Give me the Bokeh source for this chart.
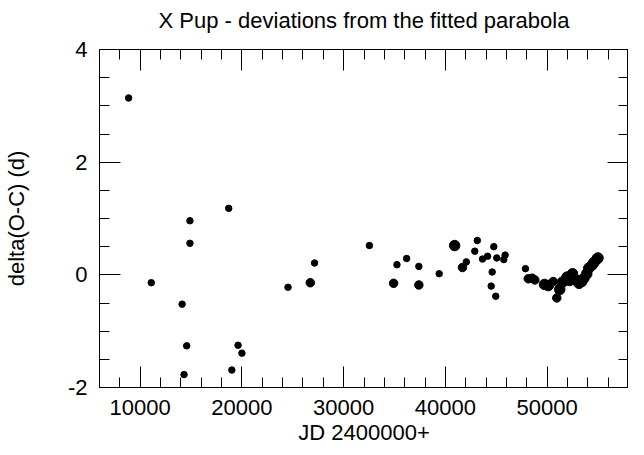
from bokeh.plotting import figure
from bokeh.models import (LinearAxis, SingleIntervalTicker, Range1d, ColumnDataSource,
                          PrintfTickFormatter, CustomJSTickFormatter)
from bokeh.embed import file_html
from bokeh.resources import INLINE

# ---- data ----
jd = [8860, 11090, 14120, 14310, 14570, 14890, 14890, 18700, 19010, 19620, 20000,
      24530, 26720, 27140, 32530, 34910, 35240, 36190, 37390, 37390, 39390,
      40910, 41680, 42060, 42890, 43140, 43650, 44150, 44500, 44600, 44760,
      44950, 45050, 45740, 45870, 47870, 48150, 48530, 48790,
      49740, 50120, 50600, 50950, 51240, 51500, 51960, 52200, 52500, 52820,
      53140, 53400, 53620, 53900, 54100, 54400, 54600, 54900, 55000]
delta = [3.14, -0.14, -0.52, -1.77, -1.26, 0.96, 0.56, 1.18, -1.69, -1.25, -1.39,
         -0.22, -0.14, 0.21, 0.52, -0.15, 0.18, 0.29, -0.18, 0.15, 0.02,
         0.52, 0.13, 0.23, 0.42, 0.61, 0.28, 0.33, -0.20, 0.05, 0.50,
         -0.38, 0.30, 0.27, 0.35, 0.11, -0.07, -0.06, -0.09,
         -0.17, -0.19, -0.12, -0.41, -0.26, -0.13, -0.04, -0.10, 0.02, -0.09,
         -0.15, -0.12, -0.06, 0.02, 0.12, 0.17, 0.22, 0.28, 0.30]
weight = [1, 1, 1, 1, 1, 1, 1, 1, 1, 1, 1,
          1, 2, 1, 1, 2, 1, 1, 2, 1, 1,
          3, 2, 1, 1, 1, 1, 1, 1, 1, 1,
          1, 1, 1, 1, 1, 2, 2, 2,
          3, 3, 2, 2, 3, 3, 3, 3, 3, 3,
          3, 3, 3, 3, 3, 3, 3, 3, 3]

title = "X Pup - deviations from the fitted parabola"
xlabel = "JD 2400000+"
ylabel = "delta(O-C) (d)"

size_map = {1: 6.5, 2: 8.5, 3: 10.5}
src = ColumnDataSource(dict(x=jd, y=delta, s=[size_map[w] for w in weight]))

FONT = "Liberation Sans"
FS = "22px"

p = figure(width=628, height=447, output_backend="svg", toolbar_location=None,
           x_range=Range1d(6000, 58000), y_range=Range1d(-2, 4),
           min_border_left=89, min_border_right=0, min_border_top=0,
           min_border_bottom=59, x_axis_location=None, y_axis_location=None)
p.background_fill_color = "white"
p.border_fill_color = "white"
p.outline_line_color = "black"
p.outline_line_width = 1
p.xgrid.visible = False
p.ygrid.visible = False

p.title.text = title
p.title.align = "center"
p.title.text_font = FONT
p.title.text_font_size = FS
p.title.text_font_style = "normal"
p.title.text_color = "black"
p.title.standoff = 10
p.title.padding = dict(left=0, right=0, top=0, bottom=12)

def style(ax, labels=True):
    ax.major_tick_in = 21
    ax.major_tick_out = 0
    ax.minor_tick_in = 10
    ax.minor_tick_out = 0
    ax.major_tick_line_color = "black"
    ax.minor_tick_line_color = "black"
    ax.axis_line_color = "black"
    ax.major_label_text_font = FONT
    ax.major_label_text_color = "black"
    ax.major_label_text_font_size = FS
    ax.axis_label_text_font = FONT
    ax.axis_label_text_font_size = FS
    ax.axis_label_text_font_style = "normal"
    ax.axis_label_text_color = "black"
    if not labels:
        ax.formatter = CustomJSTickFormatter(code="return ''")
        ax.major_label_standoff = 0

xt = SingleIntervalTicker(interval=10000, num_minor_ticks=5)
yt = SingleIntervalTicker(interval=2, num_minor_ticks=4)

xb = LinearAxis(ticker=xt, axis_label=xlabel)
style(xb)
xb.major_label_standoff = 12
xb.axis_label_standoff = 2
p.add_layout(xb, "below")

yl = LinearAxis(ticker=yt, axis_label=ylabel, formatter=PrintfTickFormatter(format="%d"))
style(yl)
yl.major_label_standoff = 12
yl.axis_label_standoff = 36
p.add_layout(yl, "left")

xa = LinearAxis(ticker=SingleIntervalTicker(interval=10000, num_minor_ticks=5))
style(xa, labels=False)
p.add_layout(xa, "above")

yr = LinearAxis(ticker=SingleIntervalTicker(interval=2, num_minor_ticks=4))
style(yr, labels=False)
p.add_layout(yr, "right")

p.scatter("x", "y", size="s", source=src, color="black", line_color="black")

open("out.html", "w").write(file_html(p, INLINE))
